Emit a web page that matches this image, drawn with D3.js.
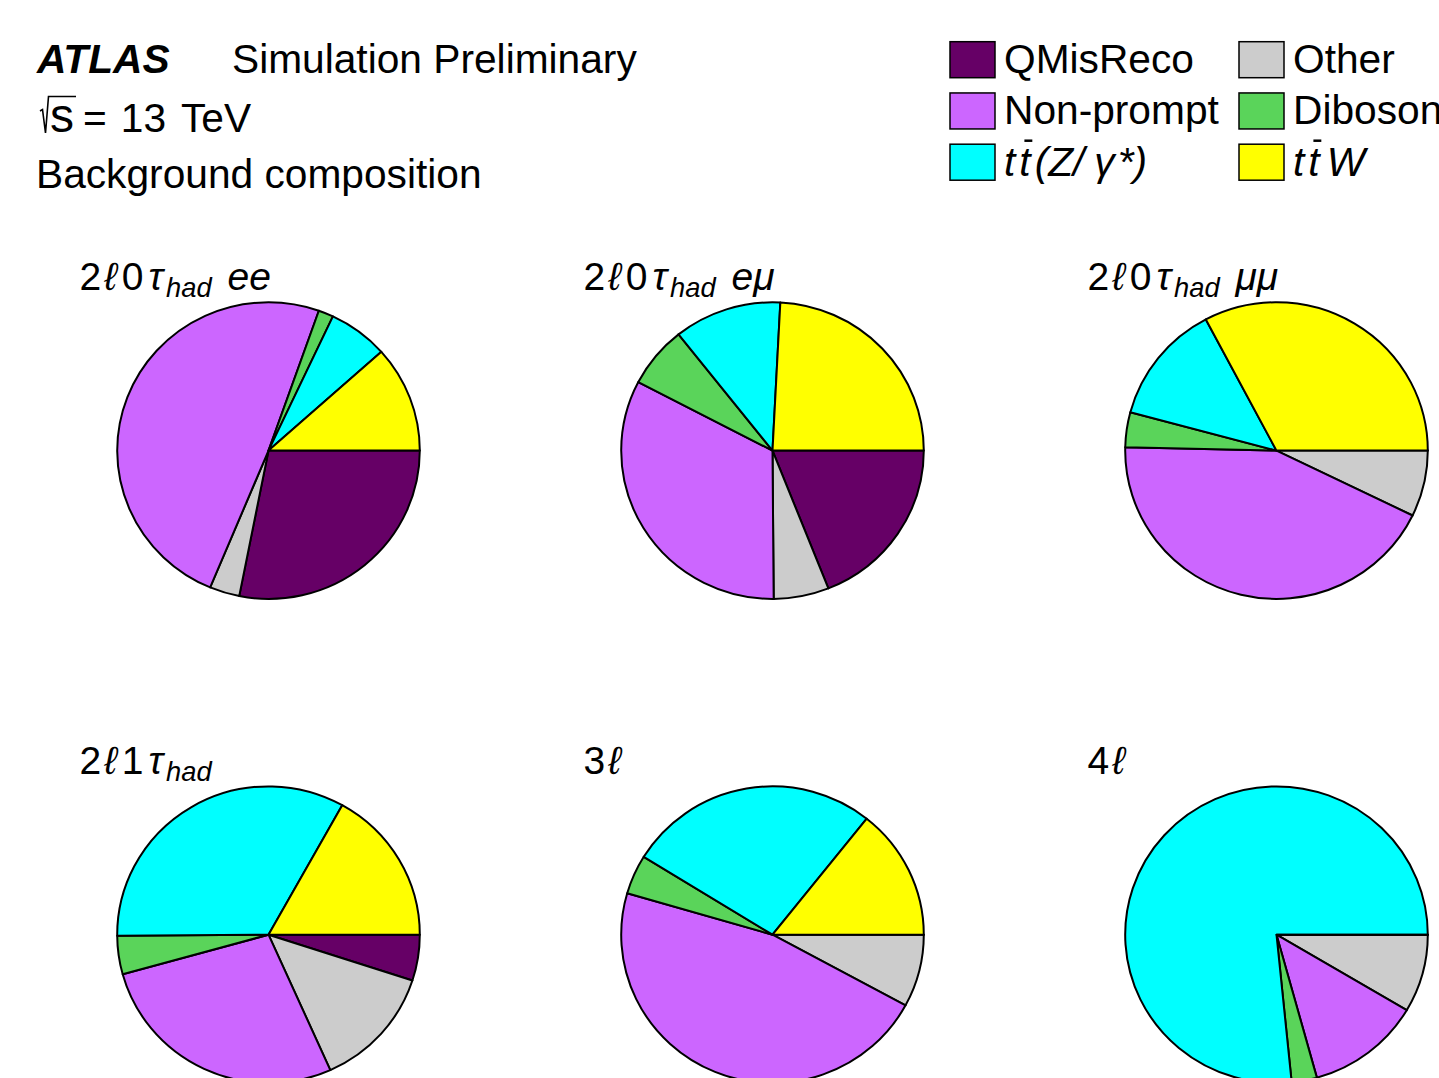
<!DOCTYPE html>
<html><head><meta charset="utf-8">
<script src="https://cdn.jsdelivr.net/npm/d3@7"></script>
<style>
body{margin:0;background:#fff}
svg{display:block}
text{font-family:"Liberation Sans",Arial,Helvetica,sans-serif;fill:#000}
</style>
</head><body>
<svg id="c" width="1439" height="1078"></svg>
<script>
// ---- data (percent of background) ----
const categories = ["QMisReco", "Other", "Non-prompt", "Diboson", "ttZ", "ttW"];
const colors     = ["#660066", "#cccccc", "#cc66ff", "#5ad45a", "#00ffff", "#ffff00"];
const regionIds  = ["2l0tau_ee", "2l0tau_emu", "2l0tau_mumu", "2l1tau", "3l", "4l"];
const vals_2l0tau_ee   = [28.1, 3.2, 49.1, 1.6, 6.4, 11.6];
const vals_2l0tau_emu  = [19.0, 5.9, 32.8, 6.7, 11.5, 24.2];
const vals_2l0tau_mumu = [0.0, 7.2, 43.1, 3.8, 13.1, 32.7];
const vals_2l1tau      = [5.0, 13.3, 27.4, 4.2, 33.2, 16.9];
const vals_3l          = [0.0, 7.9, 46.6, 4.3, 26.9, 14.3];
const vals_4l          = [0.0, 8.5, 12.2, 2.7, 76.6, 0.0];
const regionValues = [vals_2l0tau_ee, vals_2l0tau_emu, vals_2l0tau_mumu, vals_2l1tau, vals_3l, vals_4l];
// label markup: t text, it italic, sub subscript, bar overline, g extra gap before
const regionLabels = [
  [{t:"2"},{t:"\u2113",it:1,g:3},{t:"0",g:5},{t:"\u03c4",it:1,g:5},{t:"had",it:1,sub:1,g:3},{t:" ee",it:1,g:5}],
  [{t:"2"},{t:"\u2113",it:1,g:3},{t:"0",g:5},{t:"\u03c4",it:1,g:5},{t:"had",it:1,sub:1,g:3},{t:" e\u03bc",it:1,g:5}],
  [{t:"2"},{t:"\u2113",it:1,g:3},{t:"0",g:5},{t:"\u03c4",it:1,g:5},{t:"had",it:1,sub:1,g:3},{t:" \u03bc\u03bc",it:1,g:5}],
  [{t:"2"},{t:"\u2113",it:1,g:3},{t:"1",g:5},{t:"\u03c4",it:1,g:5},{t:"had",it:1,sub:1,g:3}],
  [{t:"3"},{t:"\u2113",it:1,g:3}],
  [{t:"4"},{t:"\u2113",it:1,g:3}]
];
const legendLabels = [
  [{t:"QMisReco"}],
  [{t:"Other"}],
  [{t:"Non-prompt"}],
  [{t:"Diboson"}],
  [{t:"t",it:1},{t:"t",it:1,bar:1,g:4},{t:"(Z/",it:1,g:4},{t:"\u03b3",it:1,g:10},{t:"*)",it:1,g:3}],
  [{t:"t",it:1},{t:"t",it:1,bar:1,g:4},{t:"W",it:1,g:7}]
];
const legendOrder = [[0,1],[2,3],[4,5]];
const energyParts = [{t:"="},{t:"13",g:14},{t:"TeV",g:15}];

// ---- drawing ----
const svg = d3.select("#c");
const FS = 40.7;

function richText(parent, x, y, parts, fs) {
  const t = parent.append("text").attr("x", x).attr("y", y).attr("font-size", fs);
  let shifted = 0;
  const bars = [];
  let idx = 0;
  parts.forEach(p => {
    const ts = t.append("tspan").text(p.t);
    if (p.g) ts.attr("dx", p.g);
    if (p.it) ts.attr("font-style", "italic");
    if (p.sub) { ts.attr("font-size", fs * 0.7).attr("dy", 7); shifted = 7; }
    else if (shifted) { ts.attr("dy", -shifted); shifted = 0; }
    if (p.bar) bars.push(idx);
    idx += p.t.length;
  });
  bars.forEach(i => {
    const e = t.node().getExtentOfChar(i);
    parent.append("line")
      .attr("x1", e.x + e.width * 0.45).attr("x2", e.x + e.width * 1.15)
      .attr("y1", y - fs * 0.86).attr("y2", y - fs * 0.86)
      .attr("stroke", "#000").attr("stroke-width", 2.5);
  });
  return t;
}

// header
const hdr = svg.append("g");
hdr.append("text").attr("x", 37).attr("y", 73).attr("font-size", FS)
  .attr("font-weight", "bold").attr("font-style", "italic").text("ATLAS");
hdr.append("text").attr("x", 232).attr("y", 73).attr("font-size", FS).text("Simulation Preliminary");
hdr.append("path").attr("d", "M40,111 L42.5,109.5 L45.5,133 L48.5,96.5 L76,96.5")
  .attr("fill", "none").attr("stroke", "#000").attr("stroke-width", 1.6);
hdr.append("text").attr("x", 50).attr("y", 131.5).attr("font-size", 48).text("s");
richText(hdr, 83, 131.5, energyParts, FS);
hdr.append("text").attr("x", 36).attr("y", 188).attr("font-size", FS).text("Background composition");

// legend
const legX = d3.scalePoint().domain([0, 1]).range([950, 1239]);
const legY = d3.scalePoint().domain([0, 1, 2]).range([59.7, 162.2]);
const leg = svg.append("g");
legendOrder.forEach((row, r) => row.forEach((ci, c) => {
  leg.append("rect").attr("x", legX(c)).attr("y", legY(r) - 18)
    .attr("width", 45).attr("height", 36)
    .attr("fill", colors[ci]).attr("stroke", "#000").attr("stroke-width", 1.5);
  richText(leg, legX(c) + 54, legY(r) + 13.5, legendLabels[ci], FS);
}));

// pies
const gx = d3.scalePoint().domain([0, 1, 2]).range([268.5, 1276.5]);
const gy = d3.scalePoint().domain([0, 1]).range([450.6, 934.7]);
const R = 151.3, yScale = 148.3 / 151.3;
const pie = d3.pie().sort(null).value(d => d)
  .startAngle(Math.PI / 2).endAngle(Math.PI / 2 + 2 * Math.PI);
const arc = d3.arc().innerRadius(0).outerRadius(R);

regionValues.forEach((vals, i) => {
  const cx = gx(i % 3), cy = gy(Math.floor(i / 3));
  const g = svg.append("g").attr("class", "pie-" + regionIds[i])
    .attr("transform", `translate(${cx},${cy}) scale(1,${yScale})`);
  g.selectAll("path").data(pie(vals)).join("path")
    .attr("d", arc)
    .attr("fill", (d, j) => colors[j])
    .attr("stroke", "#000").attr("stroke-width", 2)
    .attr("stroke-linejoin", "round")
    .attr("vector-effect", "non-scaling-stroke");
  richText(svg, cx - 189, cy - 160.5, regionLabels[i], 39);
});
</script>
</body></html>
